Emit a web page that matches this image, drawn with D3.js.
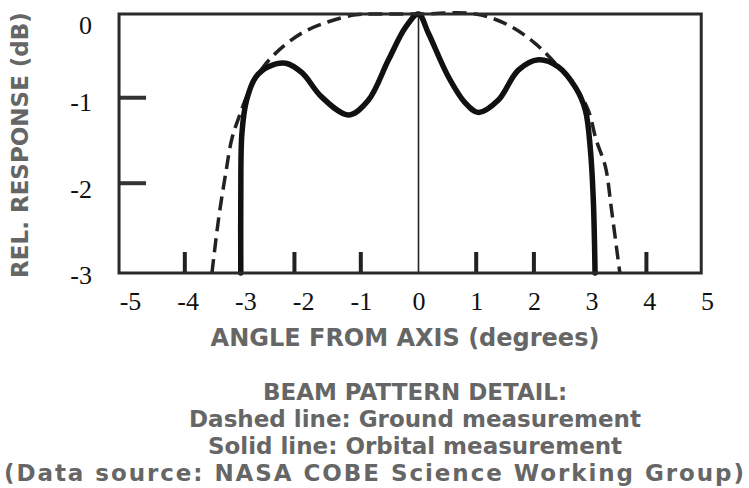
<!DOCTYPE html>
<html>
<head>
<meta charset="utf-8">
<script src="https://cdn.jsdelivr.net/npm/d3@7"></script>
<style>
  body { margin: 0; background: #fff; }
  svg { display: block; }
</style>
</head>
<body>
<svg width="749" height="488"></svg>
<script>
// tick labels
const xTicks = [-5, -4, -3, -2, -1, 0, 1, 2, 3, 4, 5];
const yTicks = [0, -1, -2, -3];
// short stubs drawn inside the frame
const xStubs = [-4.05, -2.15, -1, 1, 2, 3.95];
const yStubs = [-0.97, -1.96];

// dashed line: ground measurement
const groundAngle = [-3.58, -3.46, -3.34, -3.24, -3.11, -2.91, -2.73, -2.47, -2.02, -1.56, -1.09, -0.74,
    0, 0.99, 1.56, 2.02, 2.37, 2.72, 2.94, 3.08, 3.24, 3.34, 3.46, 3.49];
const groundResponse = [-3.0, -2.35, -1.84, -1.46, -1.19, -0.85, -0.65, -0.45, -0.22, -0.09, -0.01, 0,
    0, 0, -0.13, -0.34, -0.57, -0.85, -1.11, -1.46, -1.77, -2.24, -2.85, -3.0];

// solid line: orbital measurement
const orbitAngle = [-3.08, -3.08, -3.06, -2.98, -2.82, -2.60, -2.30, -2.02, -1.68, -1.21, -0.87, -0.52, -0.22,
    0, 0.17, 0.52, 0.81, 1.04, 1.38, 1.73, 2.08, 2.42, 2.72, 2.89, 2.98, 3.03, 3.06];
const orbitResponse = [-3.0, -2.16, -1.38, -1.00, -0.73, -0.61, -0.57, -0.68, -0.96, -1.17, -1.00, -0.53, -0.15,
    0, -0.22, -0.73, -1.03, -1.14, -1.00, -0.65, -0.53, -0.61, -0.85, -1.11, -1.58, -2.16, -3.0];

const notes = [
    'BEAM PATTERN DETAIL:',
    'Dashed line: Ground measurement',
    'Solid line: Orbital measurement',
    '(Data source: NASA COBE Science Working Group)',
];

const svg = d3.select('svg');
const textGray = '#666';
const sansBold = '"DejaVu Sans", Verdana, sans-serif';
const serif = '"Liberation Serif", "Times New Roman", serif';

const x = d3.scaleLinear().domain([-5, 5]).range([130, 707]);
const y = d3.scaleLinear().domain([-3, 0]).range([273, 14]);

// frame spans a bit past the label positions, like the drawing
const frameLeft = -5.19;
const frameRight = 4.9;

const line = d3.line()
    .x(d => x(d[0]))
    .y(d => y(d[1]))
    .curve(d3.curveCatmullRom.alpha(0.5));

const ground = groundAngle.map((a, i) => [a, groundResponse[i]]);
const orbit = orbitAngle.map((a, i) => [a, orbitResponse[i]]);

// centre line
svg.append('line')
    .attr('x1', x(0)).attr('x2', x(0))
    .attr('y1', y(0)).attr('y2', y(-3))
    .attr('stroke', '#222')
    .attr('stroke-width', 1.6);

// stubs
svg.append('g').selectAll('rect')
    .data(xStubs)
    .join('rect')
    .attr('x', d => x(d) - 2)
    .attr('y', y(-3) - 21)
    .attr('width', 4)
    .attr('height', 21)
    .attr('fill', '#222');

svg.append('g').selectAll('rect')
    .data(yStubs)
    .join('rect')
    .attr('x', x(frameLeft))
    .attr('y', d => y(d) - 2)
    .attr('width', 27)
    .attr('height', 4)
    .attr('fill', '#333');

svg.append('path')
    .datum(ground)
    .attr('d', line)
    .attr('fill', 'none')
    .attr('stroke', '#222')
    .attr('stroke-width', 3.5)
    .attr('stroke-dasharray', '14,7');

svg.append('path')
    .datum(orbit)
    .attr('d', line)
    .attr('fill', 'none')
    .attr('stroke', '#111')
    .attr('stroke-width', 5.5)
    .attr('stroke-linejoin', 'round')
    .attr('stroke-linecap', 'round');

// frame
svg.append('rect')
    .attr('x', x(frameLeft))
    .attr('y', y(0))
    .attr('width', x(frameRight) - x(frameLeft))
    .attr('height', y(-3) - y(0))
    .attr('fill', 'none')
    .attr('stroke', '#2a2a2a')
    .attr('stroke-width', 3);

// tick labels
const xAxis = svg.append('g')
    .attr('transform', `translate(0,${y(-3) + 16})`)
    .call(d3.axisBottom(x).tickValues(xTicks).tickSize(0).tickFormat(d => String(d)));
xAxis.select('.domain').remove();
xAxis.selectAll('text')
    .attr('font-family', serif)
    .attr('font-size', 26)
    .attr('fill', '#111');

const yAxis = svg.append('g')
    .attr('transform', 'translate(92,0)')
    .call(d3.axisLeft(y).tickValues(yTicks).tickSize(0).tickPadding(0).tickFormat(d => String(d)));
yAxis.select('.domain').remove();
yAxis.selectAll('text')
    .attr('font-family', serif)
    .attr('font-size', 26)
    .attr('fill', '#111')
    .attr('dy', d => (d === 0 ? '0.75em' : '0.4em'));

// axis titles
svg.append('text')
    .attr('x', 405)
    .attr('y', 346)
    .attr('text-anchor', 'middle')
    .attr('font-family', sansBold)
    .attr('font-weight', 'bold')
    .attr('font-size', 24)
    .attr('fill', textGray)
    .text('ANGLE FROM AXIS (degrees)');

svg.append('text')
    .attr('transform', 'translate(28,145) rotate(-90)')
    .attr('text-anchor', 'middle')
    .attr('font-family', sansBold)
    .attr('font-weight', 'bold')
    .attr('font-size', 23)
    .attr('fill', textGray)
    .text('REL. RESPONSE (dB)');

// caption
const noteX = [415, 415, 415, 374];
svg.append('g').selectAll('text')
    .data(notes)
    .join('text')
    .attr('x', (d, i) => noteX[i])
    .attr('y', (d, i) => 400 + i * 27)
    .attr('text-anchor', 'middle')
    .attr('font-family', sansBold)
    .attr('font-weight', 'bold')
    .attr('font-size', 23)
    .attr('fill', textGray)
    .each(function (d, i) {
        if (i === notes.length - 1) {
            d3.select(this).attr('textLength', 740).attr('lengthAdjust', 'spacing');
        }
    })
    .text(d => d);
</script>
</body>
</html>
